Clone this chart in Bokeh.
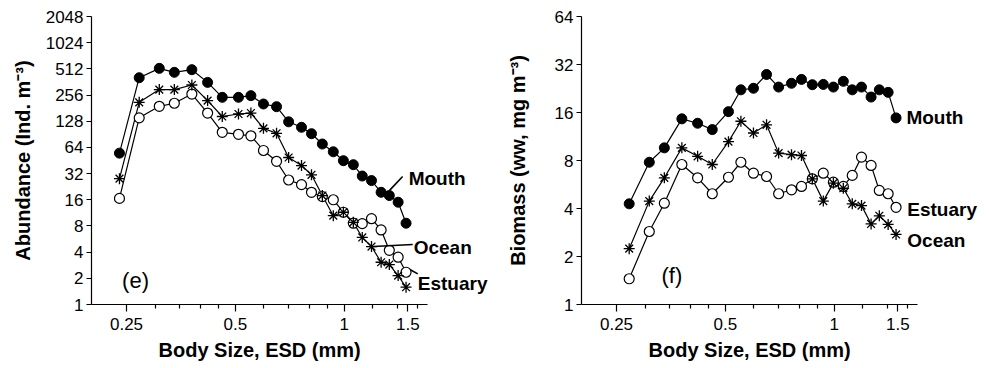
import math
from bokeh.plotting import figure
from bokeh.layouts import row
from bokeh.models import FixedTicker, CustomJSTickFormatter, Label, Range1d, Title
from bokeh.embed import file_html
from bokeh.resources import INLINE

# ---------------- data ----------------
size_mm = [0.239, 0.271, 0.308, 0.339, 0.379, 0.419, 0.46, 0.51, 0.552, 0.598, 0.65, 0.702,
           0.762, 0.812, 0.87, 0.933, 0.995, 1.06, 1.122, 1.19, 1.265, 1.333, 1.41, 1.483]

# panel (e): abundance (Ind. m^-3)
mouth_abund = [55, 405, 519, 467, 501, 358, 241, 241, 252, 202, 188, 126,
               109, 92, 70, 57, 45, 40.5, 30, 26.6, 19.5, 17.9, 15, 8.6]
ocean_abund = [28, 211, 296, 296, 334, 221, 145, 155, 159, 106, 93, 49,
               39.6, 31, 17.9, 10.5, 11.5, 8.8, 5.9, 4.64, 3.06, 2.88, 2.15, 1.58]
estuary_abund = [16.6, 140, 190, 206, 263, 159, 95.5, 90.5, 87, 59, 44.3, 27,
                 23.9, 19.5, 17.4, 16, 11.5, 8.6, 8.5, 9.7, 7.2, 4.2, 3.5, 2.35]

# panel (f): biomass (ww, mg m^-3) -- starts at the second size class
size_bio = size_mm[1:]
mouth_bio = [4.28, 7.8, 9.6, 14.6, 13.7, 12.5, 16.2, 22.2, 22.7, 27.7, 23.1, 24.4,
             25.8, 23.9, 24, 23.1, 25.1, 22.2, 23.1, 20, 22.2, 21.4, 14.8]
ocean_bio = [2.24, 4.45, 6.23, 9.6, 8.5, 7.55, 10.5, 14.1, 11.9, 13.4, 8.9, 8.7,
             8.6, 6.14, 4.45, 5.77, 5.36, 4.28, 4.17, 3.2, 3.6, 3.18, 2.75]
estuary_bio = [1.45, 2.87, 4.32, 7.55, 6.23, 4.95, 6.28, 7.8, 6.66, 6.35, 4.95, 5.24,
               5.5, 6.14, 6.66, 5.85, 5.5, 6.45, 8.4, 7.45, 5.19, 4.95, 4.07]

x_major = [0.25, 0.5, 1, 1.5]
x_minor = [0.3, 0.35, 0.4, 0.45, 0.6, 0.7, 0.8, 0.9, 1.2, 1.4, 1.6]
y_ticks_e = [1, 2, 4, 8, 16, 32, 64, 128, 256, 512, 1024, 2048]
y_ticks_f = [1, 2, 4, 8, 16, 32, 64]

# x axis spans 0.2 .. 1.7 over 336 px; the frame continues to the right for the labels
X0, X1, AXIS_W = 0.2, 1.7, 336
FRAME_W = 403
X_END = X0 * (X1 / X0) ** (FRAME_W / AXIS_W)

FONT = "Liberation Sans"
fmt = CustomJSTickFormatter(code="return String(tick);")


def make_fig(y_end, y_ticks, y_title, left_border, right_border, title_standoff):
    p = figure(x_axis_type="log", y_axis_type="log",
               x_range=Range1d(X0, X_END), y_range=Range1d(1, y_end),
               frame_width=FRAME_W, frame_height=288,
               min_border_left=left_border, min_border_right=right_border,
               min_border_top=16, min_border_bottom=40,
               output_backend="svg", toolbar_location=None)
    p.outline_line_color = None
    p.grid.visible = False
    p.background_fill_color = "white"
    p.border_fill_color = "white"

    xa = p.xaxis[0]
    xa.bounds = (X0, X1)
    xa.ticker = FixedTicker(ticks=x_major, minor_ticks=x_minor)
    xa.formatter = fmt
    xa.major_tick_out = 7
    xa.major_tick_in = 0
    xa.minor_tick_out = 4
    xa.minor_tick_in = 0
    xa.major_label_standoff = 6

    ya = p.yaxis[0]
    ya.ticker = FixedTicker(ticks=y_ticks, minor_ticks=[])
    ya.formatter = fmt
    ya.major_tick_out = 5
    ya.major_tick_in = 0
    ya.minor_tick_out = 0
    ya.minor_tick_in = 0
    ya.major_label_standoff = 3
    ya.axis_label = y_title
    ya.axis_label_standoff = title_standoff

    for ax in (xa, ya):
        ax.axis_line_color = "black"
        ax.axis_line_width = 1.2
        ax.major_tick_line_color = "black"
        ax.minor_tick_line_color = "black"
        ax.major_tick_line_width = 1.2
        ax.minor_tick_line_width = 1.2
        ax.major_label_text_font = FONT
        ax.major_label_text_font_size = "17px"
        ax.major_label_text_color = "black"
        ax.axis_label_text_font = FONT
        ax.axis_label_text_font_size = "20px"
        ax.axis_label_text_font_style = "bold"
        ax.axis_label_text_color = "black"

    p.add_layout(Title(text="Body Size, ESD (mm)", align="left", offset=67, standoff=8,
                       text_font=FONT, text_font_size="20px", text_font_style="bold",
                       text_color="black"), "below")
    return p


def add_series(p, x, estuary, ocean, mouth):
    p.line(x, estuary, line_color="black", line_width=1.2)
    p.line(x, ocean, line_color="black", line_width=1.2)
    p.line(x, mouth, line_color="black", line_width=1.2)
    p.scatter(x, mouth, marker="circle", size=10, fill_color="black", line_color="black")
    p.scatter(x, estuary, marker="circle", size=10, fill_color="white",
              line_color="black", line_width=1.2)
    p.scatter(x, ocean, marker="asterisk", size=11, line_color="black", line_width=1.3)


def add_label(p, x, y, text, bold=True, size="19px"):
    p.add_layout(Label(x=x, y=y, text=text, text_font=FONT, text_font_size=size,
                       text_font_style="bold" if bold else "normal",
                       text_baseline="middle", text_align="left", text_color="black"))


# ---------------- panel (e) ----------------
p1 = make_fig(2048, y_ticks_e, "Abundance (Ind. m\u207b\u00b3)", 91, 2, 9)
add_series(p1, size_mm, estuary_abund, ocean_abund, mouth_abund)
p1.segment(x0=[1.335, 1.205, 1.524], y0=[20.5, 4.64, 2.51],
           x1=[1.451, 1.547, 1.598], y1=[29.6, 4.9, 2.25],
           line_color="black", line_width=1.6)
add_label(p1, 1.508, 28.1, "Mouth")
add_label(p1, 1.557, 4.52, "Ocean")
add_label(p1, 1.598, 1.74, "Estuary")
add_label(p1, 0.243, 1.89, "(e)", bold=False, size="22px")

# ---------------- panel (f) ----------------
p2 = make_fig(64, y_ticks_f, "Biomass (ww, mg m\u207b\u00b3)", 85, 3, 23)
add_series(p2, size_bio, estuary_bio, ocean_bio, mouth_bio)
add_label(p2, 1.584, 14.9, "Mouth")
add_label(p2, 1.593, 3.94, "Estuary")
add_label(p2, 1.593, 2.52, "Ocean")
add_label(p2, 0.333, 1.52, "(f)", bold=False, size="22px")

layout = row(p1, p2)
open("out.html", "w").write(file_html(layout, INLINE))
